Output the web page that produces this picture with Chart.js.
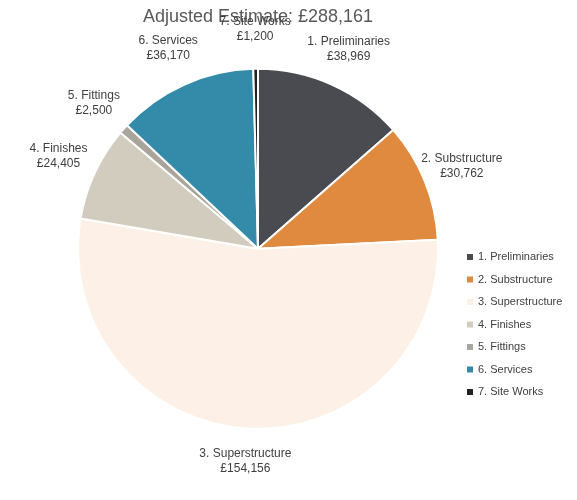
<!DOCTYPE html>
<html>
<head>
<script src="https://cdn.jsdelivr.net/npm/chart.js@4"></script>
<style>
  body { margin: 0; background: #fff; }
  #wrap { width: 577px; height: 500px; }
</style>
</head>
<body>
<div id="wrap"><canvas id="pie"></canvas></div>
<script>
const categories = ["1. Preliminaries", "2. Substructure", "3. Superstructure", "4. Finishes", "5. Fittings", "6. Services", "7. Site Works"];
const values = [38969, 30762, 154156, 24405, 2500, 36170, 1200];
const valueLabels = ["£38,969", "£30,762", "£154,156", "£24,405", "£2,500", "£36,170", "£1,200"];
const colours = ["#4a4a51", "#e08a40", "#fdf1e7", "#d2ccbf", "#aaa59c", "#348aa9", "#222222"];

// outside labels + custom legend
const extras = {
  id: "extras",
  afterDraw(chart) {
    const ctx = chart.ctx;
    const meta = chart.getDatasetMeta(0);
    ctx.save();
    ctx.font = "12px 'Liberation Sans', Arial, sans-serif";
    ctx.fillStyle = "#404040";
    ctx.textAlign = "center";
    ctx.textBaseline = "middle";
    meta.data.forEach((arc, i) => {
      const mid = (arc.startAngle + arc.endAngle) / 2;
      let r = arc.outerRadius + 40;
      if (i === 2) r = arc.outerRadius + 32;
      const x = arc.x + Math.cos(mid) * r;
      const y = arc.y + Math.sin(mid) * r;
      ctx.fillText(categories[i], x, y - 7);
      ctx.fillText(valueLabels[i], x, y + 8);
    });
    // legend
    ctx.textAlign = "left";
    ctx.font = "11px 'Liberation Sans', Arial, sans-serif";
    categories.forEach((c, i) => {
      const y = 257 + i * 22.5;
      ctx.fillStyle = colours[i];
      ctx.fillRect(467, y - 3, 6, 6);
      ctx.fillStyle = "#404040";
      ctx.fillText(c, 478, y);
    });
    ctx.restore();
  }
};

new Chart(document.getElementById("pie"), {
  type: "pie",
  data: {
    labels: categories,
    datasets: [{
      data: values,
      backgroundColor: colours,
      borderColor: "#ffffff",
      borderWidth: 2
    }]
  },
  options: {
    responsive: true,
    maintainAspectRatio: false,
    animation: false,
    radius: 180,
    layout: { padding: { left: 0, right: 61, top: 0, bottom: 36 } },
    plugins: {
      legend: { display: false },
      tooltip: { enabled: false },
      title: {
        display: true,
        text: "Adjusted Estimate: £288,161",
        color: "#595959",
        font: { size: 18, weight: "normal", family: "'Liberation Sans', Arial, sans-serif" },
        padding: { top: 6, bottom: 6 }
      }
    }
  },
  plugins: [extras]
});
</script>
</body>
</html>
